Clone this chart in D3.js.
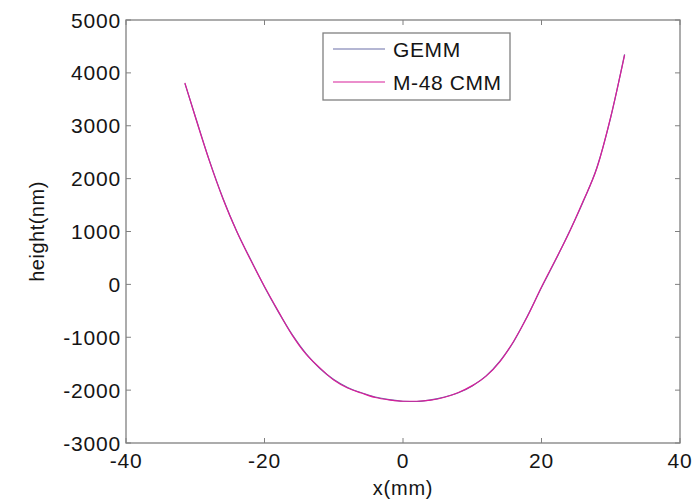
<!DOCTYPE html>
<html>
<head>
<meta charset="utf-8">
<script src="https://cdn.jsdelivr.net/npm/d3@7"></script>
<style>
  body { margin: 0; background: #fff; }
  text { font-family: "Liberation Sans", Arial, sans-serif; fill: #151515; }
</style>
</head>
<body>
<div id="chart"></div>
<script>
const xs = [-31.5, -30, -28, -26, -24, -22, -20, -18, -16, -14, -12, -10, -8, -6, -4, -2, 0, 2, 4, 6, 8, 10, 12, 14, 16, 18, 20, 22, 24, 26, 28, 30, 32];
const gemm = [3800, 3180, 2360, 1630, 1000, 470, -50, -520, -950, -1310, -1590, -1800, -1950, -2050, -2130, -2180, -2210, -2215, -2185, -2130, -2050, -1920, -1730, -1450, -1080, -590, -60, 450, 990, 1560, 2210, 3160, 4350];
const cmm = [3810, 3170, 2350, 1620, 1000, 460, -40, -510, -960, -1320, -1580, -1810, -1960, -2055, -2140, -2185, -2210, -2210, -2190, -2135, -2045, -1915, -1735, -1460, -1070, -600, -50, 460, 980, 1570, 2200, 3170, 4340];
const series = [
  { name: "GEMM", values: gemm, color: "#6b6fa8" },
  { name: "M-48 CMM", values: cmm, color: "#d81e9a" }
];
const xTicks = [-40, -20, 0, 20, 40];
const yTicks = [-3000, -2000, -1000, 0, 1000, 2000, 3000, 4000, 5000];

const W = 696, H = 501;
const margin = { top: 20, right: 16, bottom: 58, left: 126 };
const width = W - margin.left - margin.right,
      height = H - margin.top - margin.bottom;

const svg = d3.select("#chart").append("svg")
  .attr("width", W).attr("height", H);
const g = svg.append("g").attr("transform", `translate(${margin.left},${margin.top})`);

const x = d3.scaleLinear().domain([-40, 40]).range([0, width]);
const y = d3.scaleLinear().domain([-3000, 5000]).range([height, 0]);

const axisColor = "#808080";
const fs = 21;

// box
g.append("rect").attr("width", width).attr("height", height)
  .attr("fill", "none").attr("stroke", axisColor).attr("stroke-width", 1.3);

// ticks (inward on all sides)
const tickLen = 5;
xTicks.forEach(t => {
  g.append("line").attr("x1", x(t)).attr("x2", x(t)).attr("y1", height).attr("y2", height - tickLen).attr("stroke", axisColor);
  g.append("line").attr("x1", x(t)).attr("x2", x(t)).attr("y1", 0).attr("y2", tickLen).attr("stroke", axisColor);
  g.append("text").attr("x", x(t)).attr("y", height + 25)
    .attr("text-anchor", "middle").attr("font-size", fs).attr("letter-spacing", 0.8).text(t);
});
yTicks.forEach(t => {
  g.append("line").attr("x1", 0).attr("x2", tickLen).attr("y1", y(t)).attr("y2", y(t)).attr("stroke", axisColor);
  g.append("line").attr("x1", width).attr("x2", width - tickLen).attr("y1", y(t)).attr("y2", y(t)).attr("stroke", axisColor);
  g.append("text").attr("x", -5).attr("y", y(t)).attr("dy", "0.36em")
    .attr("text-anchor", "end").attr("font-size", fs).attr("letter-spacing", 0.8).text(t);
});

// axis labels
g.append("text").attr("x", x(0)).attr("y", height + 52)
  .attr("text-anchor", "middle").attr("font-size", 20).attr("letter-spacing", 0.8).text("x(mm)");
g.append("text").attr("transform", `translate(${-82},${height / 2}) rotate(-90)`)
  .attr("text-anchor", "middle").attr("font-size", 20).attr("letter-spacing", 0.5).text("height(nm)");

// lines
const line = d3.line().x((d, i) => x(xs[i])).y(d => y(d)).curve(d3.curveMonotoneX);
series.forEach(s => {
  g.append("path").datum(s.values).attr("d", line)
    .attr("fill", "none").attr("stroke", s.color).attr("stroke-width", 1.2);
});

// legend
const lg = svg.append("g").attr("transform", "translate(323,33)");
lg.append("rect").attr("width", 187).attr("height", 67)
  .attr("fill", "#fff").attr("stroke", axisColor).attr("stroke-width", 1.3);
series.forEach((s, i) => {
  const yy = 16 + i * 33;
  lg.append("line").attr("x1", 10).attr("x2", 62).attr("y1", yy).attr("y2", yy)
    .attr("stroke", s.color).attr("stroke-width", 1.2);
  lg.append("text").attr("x", 70).attr("y", yy).attr("dy", "0.36em")
    .attr("font-size", fs).attr("letter-spacing", 0.6).text(s.name);
});
</script>
</body>
</html>
